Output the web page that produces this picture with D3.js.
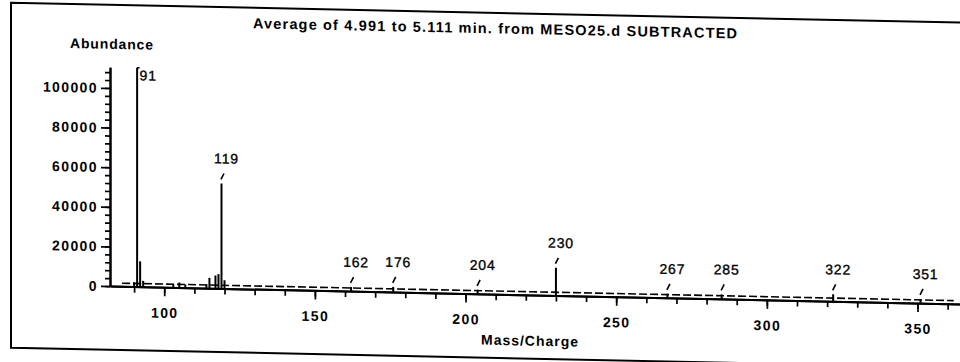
<!DOCTYPE html>
<html>
<head>
<meta charset="utf-8">
<script src="https://cdn.jsdelivr.net/npm/d3@7"></script>
<style>
  html, body { margin: 0; padding: 0; background: #fff; }
  svg { display: block; }
  text { font-family: "Liberation Sans", Arial, sans-serif; fill: #000; }
</style>
</head>
<body>
<svg id="chart" width="960" height="362"></svg>
<script>
// ---- spectrum data -------------------------------------------------------
const titleText = "Average of 4.991 to 5.111 min. from MESO25.d SUBTRACTED";
const yTitle = "Abundance";
const xTitle = "Mass/Charge";

// ion m/z values and their abundances
const massCharge = [90, 91, 92, 93, 103, 105, 107, 114, 115, 117, 118, 119, 120,
                    162, 176, 204, 230, 267, 285, 322, 351];
const abundance  = [2200, 110500, 12800, 3000, 1800, 2600, 1600, 2000, 5200, 6500, 7200, 53000, 4200,
                    2100, 2600, 2000, 14000, 2000, 2300, 3500, 2100];

// ions whose m/z is printed next to the stick
const labelledIons = [91, 119, 162, 176, 204, 230, 267, 285, 322, 351];

const yTickValues = [0, 20000, 40000, 60000, 80000, 100000];
const xTickValues = [100, 150, 200, 250, 300, 350];
const mzDomain = [82, 364];
const abundanceMax = 110500;
const noiseFloor = 1600;

// ---- layout ---------------------------------------------------------------
const svg = d3.select("#chart");
// the printed page sits slightly askew
const root = svg.append("g").attr("transform", "skewY(1.2)");

const x = d3.scaleLinear().domain(mzDomain).range([110, 959.7]);
const y = d3.scaleLinear().domain([0, abundanceMax]).range([283.8, 64.9]);

// frame
root.append("path")
  .attr("d", "M960,2.5H11V347.5H960")
  .attr("fill", "none").attr("stroke", "#000").attr("stroke-width", 2);

// title
root.append("text")
  .attr("x", 495).attr("y", 23)
  .attr("text-anchor", "middle")
  .attr("font-size", 14.5).attr("font-weight", "bold")
  .attr("textLength", 484).attr("lengthAdjust", "spacing")
  .text(titleText);

// axis titles
root.append("text")
  .attr("x", 111.5).attr("y", 46.5)
  .attr("text-anchor", "middle")
  .attr("font-size", 14).attr("font-weight", "bold")
  .attr("textLength", 83).attr("lengthAdjust", "spacing")
  .text(yTitle);

root.append("text")
  .attr("x", 529.5).attr("y", 334.5)
  .attr("text-anchor", "middle")
  .attr("font-size", 14).attr("font-weight", "bold")
  .attr("textLength", 97).attr("lengthAdjust", "spacing")
  .text(xTitle);

// ---- y axis ---------------------------------------------------------------
const yMinor = root.append("g").attr("transform", "translate(110,0)")
  .call(d3.axisLeft(y).tickValues(d3.range(0, abundanceMax, 4000)).tickSize(5).tickSizeOuter(0).tickFormat(""));
const yMajor = root.append("g").attr("transform", "translate(110,0)")
  .call(d3.axisLeft(y).tickValues(yTickValues).tickSize(9).tickSizeOuter(0).tickPadding(3)
        .tickFormat(d3.format("d")));

// ---- x axis ---------------------------------------------------------------
const xMinor = root.append("g").attr("transform", `translate(0,${y(0)})`)
  .call(d3.axisBottom(x).tickValues(d3.range(90, 361, 10)).tickSize(6).tickSizeOuter(0).tickFormat(""));
const xMajor = root.append("g").attr("transform", `translate(0,${y(0)})`)
  .call(d3.axisBottom(x).tickValues(xTickValues).tickSize(9).tickSizeOuter(0).tickPadding(11.6));

[yMinor, yMajor, xMinor, xMajor].forEach(g => {
  g.select(".domain").attr("stroke", "#000").attr("stroke-width", 2);
  g.selectAll(".tick line").attr("stroke", "#000").attr("stroke-width", 1.7);
  g.selectAll(".tick text")
    .attr("fill", "#000")
    .attr("font-family", "\"Liberation Sans\", Arial, sans-serif")
    .attr("font-size", 14).attr("font-weight", "bold")
    .style("letter-spacing", "1.4px");
});

// ---- low-level noise floor -----------------------------------------------
root.append("line")
  .attr("x1", x(86)).attr("x2", x(362))
  .attr("y1", y(noiseFloor)).attr("y2", y(noiseFloor))
  .attr("stroke", "#000").attr("stroke-width", 1.6)
  .attr("stroke-dasharray", "8,3");

// ---- spectrum sticks -----------------------------------------------------
const peaks = massCharge.map((m, i) => ({ m, v: abundance[i] }));

root.append("g").selectAll("line")
  .data(peaks)
  .join("line")
  .attr("x1", d => x(d.m)).attr("x2", d => x(d.m))
  .attr("y1", y(0)).attr("y2", d => y(d.v))
  .attr("stroke", "#000").attr("stroke-width", 2);

// ---- m/z annotations -----------------------------------------------------
const basePeak = peaks.reduce((a, b) => (b.v > a.v ? b : a));
const labelled = peaks.filter(p => labelledIons.includes(p.m));
const ann = root.append("g");

labelled.forEach(p => {
  const px = x(p.m), py = y(p.v);
  if (p === basePeak) {
    // base peak: label to the right of the stick top
    ann.append("path")
      .attr("d", `M${px},${py}h2.5`)
      .attr("stroke", "#000").attr("stroke-width", 1.6);
    ann.append("text")
      .attr("x", px + 2.5).attr("y", py + 12.5)
      .attr("font-size", 14).style("letter-spacing", "0.8px")
      .attr("stroke", "#000").attr("stroke-width", 0.35)
      .text(p.m);
  } else {
    ann.append("line")
      .attr("x1", px - 0.5).attr("y1", py - 4)
      .attr("x2", px + 2.5).attr("y2", py - 10)
      .attr("stroke", "#000").attr("stroke-width", 1.6);
    ann.append("text")
      .attr("x", px + 5).attr("y", py - 20)
      .attr("text-anchor", "middle")
      .attr("font-size", 14).style("letter-spacing", "0.8px")
      .attr("stroke", "#000").attr("stroke-width", 0.35)
      .text(p.m);
  }
});
</script>
</body>
</html>
